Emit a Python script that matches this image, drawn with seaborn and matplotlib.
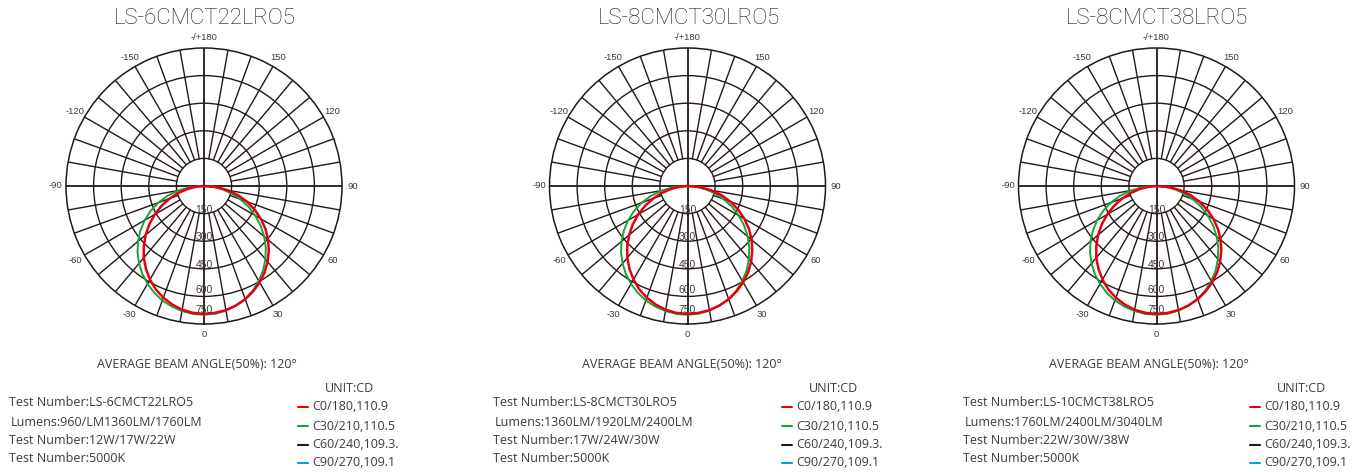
import matplotlib
matplotlib.use("Agg")
import matplotlib.pyplot as plt
import numpy as np
import seaborn as sns
from matplotlib.lines import Line2D

sns.set_style("white")
plt.rcParams["font.family"] = ["Open Sans", "DejaVu Sans"]

# luminous intensity (cd), -90..90 deg in 5 deg steps
angles_deg = [-90, -85, -80, -75, -70, -65, -60, -55, -50, -45, -40, -35, -30,
              -25, -20, -15, -10, -5, 0, 5, 10, 15, 20, 25, 30, 35, 40, 45,
              50, 55, 60, 65, 70, 75, 80, 85, 90]
c0_cd = [0, 40, 90, 143, 198, 254, 309, 363, 414, 463, 509, 550, 587,
         620, 646, 667, 683, 692, 695, 692, 685, 672, 655, 632, 605, 574,
         538, 498, 455, 408, 357, 304, 248, 190, 129, 67, 0]
c30_cd = [0, 76, 142, 205, 264, 320, 373, 422, 468, 511, 549, 584, 614,
          640, 662, 678, 690, 698, 700, 697, 688, 673, 653, 627, 596, 560,
          519, 475, 427, 376, 322, 267, 210, 154, 98, 46, 0]

ring_values = [150, 300, 450, 600, 750]
ring_label_r = [131, 277, 427, 567, 673]
theta_ticks = [0, 30, 60, 90, 120, 150, 180, 210, 240, 270, 300, 330]
theta_labels = ["0", "30", "60", "90", "120", "150", "-/+180",
                "-150", "-120", "-90", "-60", "-30"]

titles = ["LS-6CMCT22LRO5", "LS-8CMCT30LRO5", "LS-8CMCT38LRO5"]
test_numbers = ["Test Number:LS-6CMCT22LRO5", "Test Number:LS-8CMCT30LRO5",
                "Test Number:LS-10CMCT38LRO5"]
lumens = ["Lumens:960/LM1360LM/1760LM", "Lumens:1360LM/1920LM/2400LM",
          "Lumens:1760LM/2400LM/3040LM"]
watts = ["Test Number:12W/17W/22W", "Test Number:17W/24W/30W",
         "Test Number:22W/30W/38W"]
cct = ["Test Number:5000K", "Test Number:5000K", "Test Number:5000K"]
beam_text = "AVERAGE BEAM ANGLE(50%): 120°"
legend_labels = ["C0/180,110.9", "C30/210,110.5", "C60/240,109.3.", "C90/270,109.1"]
legend_colors = ["#e60012", "#1aa33a", "#231815", "#00a0e9"]

GRID = "#231815"
TEXT = "#3e3a39"
W, H = 1364, 472

# layout in pixels
panel_cx = [204, 687.5, 1156.5]
panel_cy = 186
radius = 138
text_x = [9, 493, 963]
beam_x = [197, 682, 1149]
legend_x = [298, 782, 1250]
unit_x = [349.5, 833, 1302]
ARIAL = ["Liberation Sans", "DejaVu Sans"]
BODY = 9


def fx(x):
    return x / W


def fy(y):
    return 1 - y / H


def draw_polar(fig, cx):
    ax = fig.add_axes([fx(cx - radius), fy(panel_cy + radius),
                       2 * radius / W, 2 * radius / H], projection="polar")
    ax.set_theta_zero_location("S")
    ax.set_theta_direction(1)
    ax.set_ylim(0, 750)
    ax.set_yticks(ring_values[:-1])
    ax.set_yticklabels([])
    ax.yaxis.grid(True, color=GRID, lw=1.0)
    ax.set_thetagrids(theta_ticks, labels=theta_labels)
    ax.xaxis.grid(False)
    ax.tick_params(axis="x", pad=-3, labelsize=6.8, colors=TEXT)
    for lab in ax.get_xticklabels():
        lab.set_fontfamily(ARIAL)
    ax.spines["polar"].set_color(GRID)
    ax.spines["polar"].set_linewidth(1.1)

    # spokes every 10 deg start at the 150 ring, the main axes cross the centre
    for a in range(0, 360, 10):
        t = np.deg2rad(a)
        r0 = 0 if a % 90 == 0 else 150
        ax.plot([t, t], [r0, 750], color=GRID, lw=1.0 if a % 90 else 1.3,
                zorder=1)

    sns.lineplot(x=np.deg2rad(angles_deg), y=c30_cd, ax=ax, sort=False,
                 color=legend_colors[1], lw=1.4, zorder=3)
    sns.lineplot(x=np.deg2rad(angles_deg), y=c0_cd, ax=ax, sort=False,
                 color=legend_colors[0], lw=1.8, zorder=4)

    for val, r in zip(ring_values, ring_label_r):
        ax.text(0, r, str(val), ha="center", va="center", fontsize=7.5,
                color=TEXT, family=ARIAL, zorder=5)
    ax.set_xlabel("")
    ax.set_ylabel("")
    return ax


fig = plt.figure(figsize=(W / 100, H / 100), dpi=100)

for i in range(3):
    draw_polar(fig, panel_cx[i])
    fig.text(fx(panel_cx[i] + 1), fy(18), titles[i], ha="center", va="center",
             fontsize=16, fontweight="light", color="#231815",
             family=["Roboto", "DejaVu Sans"])
    fig.text(fx(beam_x[i]), fy(365), beam_text, ha="center", va="center",
             fontsize=BODY, color=TEXT)
    rows = [test_numbers[i], lumens[i], watts[i], cct[i]]
    for j, (row, y) in enumerate(zip(rows, [403, 422, 441, 459])):
        fig.text(fx(text_x[i] + (2 if j == 1 else 0)), fy(y), row,
                 ha="left", va="center", fontsize=BODY, color=TEXT)
    fig.text(fx(unit_x[i]), fy(388), "UNIT:CD", ha="center", va="center",
             fontsize=BODY, color=TEXT)
    for lab, col, y in zip(legend_labels, legend_colors, [407, 426, 444.5, 463]):
        fig.add_artist(Line2D([fx(legend_x[i]), fx(legend_x[i] + 10)],
                              [fy(y), fy(y)], color=col, lw=1.5,
                              transform=fig.transFigure))
        fig.text(fx(legend_x[i] + 14), fy(y), lab, ha="left", va="center",
                 fontsize=BODY, color=TEXT)

fig.savefig("out.png", dpi=100, facecolor="white")
